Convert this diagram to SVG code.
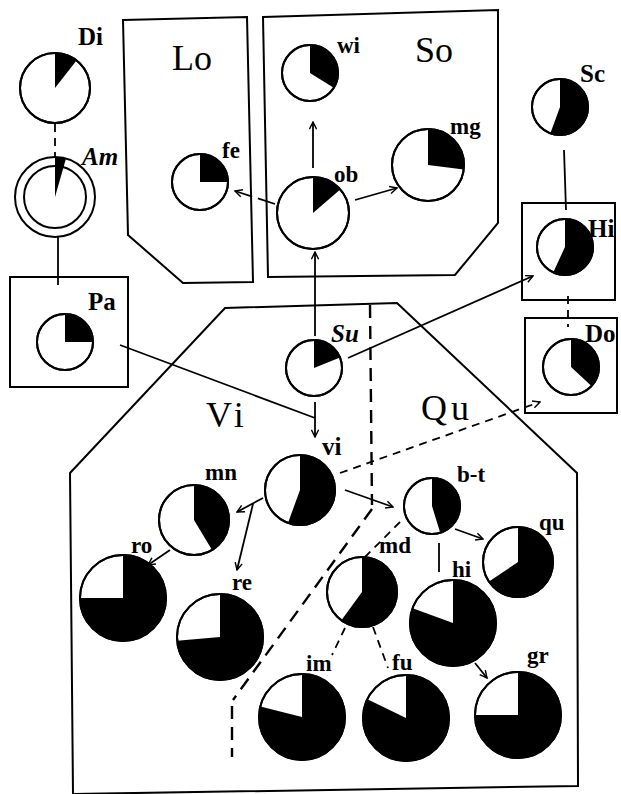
<svg xmlns="http://www.w3.org/2000/svg" width="621" height="794" viewBox="0 0 621 794">
<defs>
<marker id="ah" viewBox="0 0 10 10" refX="9" refY="5" markerWidth="9" markerHeight="9" markerUnits="userSpaceOnUse" orient="auto">
<path d="M1,1 L9,5 L1,9" fill="none" stroke="#000" stroke-width="1.6"/>
</marker>
<style>
.bg{fill:#fff}
.reg{fill:none;stroke:#000;stroke-width:2}
.ring{fill:#fff;stroke:#000;stroke-width:2}
.rim{fill:none;stroke:#000;stroke-width:2}
.dk{fill:#000}
.ln{fill:none;stroke:#000;stroke-width:1.8}
.ds{fill:none;stroke:#000;stroke-width:1.8;stroke-dasharray:8 6}
.bd{fill:none;stroke:#000;stroke-width:2.4;stroke-dasharray:13 8}
.lb{font-family:"Liberation Serif","DejaVu Serif",serif;font-weight:bold;font-size:23px;fill:#000}
.lbb{font-family:"Liberation Serif","DejaVu Serif",serif;font-weight:bold;font-size:25px;fill:#000}
.rg{font-family:"Liberation Serif","DejaVu Serif",serif;font-size:36px;fill:#000}
</style>
</defs>
<rect class="bg" x="0" y="0" width="621" height="794"/>

<g id="regions">
<polygon id="region-Lo" class="reg" points="123,20 247,17 253,282 183,283 128,235"/>
<polygon id="region-So" class="reg" points="263,17 498,10 498,223 455,275 268,277"/>
<polygon id="region-ViQu" class="reg" points="70,473 225,308 397,303 577,473 578,786 73,794"/>
<rect id="box-Pa" class="reg" x="10" y="277" width="118" height="110"/>
<rect id="box-Hi" class="reg" x="522" y="203" width="93" height="97"/>
<rect id="box-Do" class="reg" x="525" y="318" width="92" height="95"/>
<text class="rg" x="172" y="70">Lo</text>
<text class="rg" x="415" y="62">So</text>
<text class="rg" x="206" y="427" letter-spacing="4">Vi</text>
<text class="rg" x="421" y="420" letter-spacing="4">Qu</text>
</g>

<g id="boundaries">
<line class="bd" x1="370" y1="305" x2="372" y2="505"/>
<line class="bd" x1="372" y1="509" x2="233" y2="700"/>
<line class="bd" x1="232" y1="706" x2="232" y2="757"/>
</g>

<g id="connectors">
<line class="ds" x1="55" y1="124" x2="55" y2="158"/>
<line class="ln" x1="58" y1="237" x2="58" y2="285"/>
<line class="ln" x1="120" y1="345" x2="315" y2="418"/>
<line class="ln" x1="315" y1="402" x2="315" y2="437" marker-end="url(#ah)"/>
<line class="ln" x1="315" y1="336" x2="315" y2="252" marker-end="url(#ah)"/>
<line class="ln" x1="313" y1="168" x2="313" y2="122" marker-end="url(#ah)"/>
<line class="ln" x1="275" y1="204" x2="235" y2="191" stroke-dasharray="18 6" marker-end="url(#ah)"/>
<line class="ln" x1="355" y1="200" x2="397" y2="188" marker-end="url(#ah)"/>
<line class="ln" x1="348" y1="358" x2="533" y2="276" marker-end="url(#ah)"/>
<line class="ln" x1="564" y1="150" x2="566" y2="210"/>
<line class="ds" x1="568" y1="296" x2="568" y2="327"/>
<line class="ds" x1="340" y1="473" x2="540" y2="402" marker-end="url(#ah)"/>
<line class="ln" x1="345" y1="490" x2="393" y2="507" marker-end="url(#ah)"/>
<line class="ln" x1="263" y1="498" x2="237" y2="512" marker-end="url(#ah)"/>
<line class="ln" x1="253" y1="504" x2="237" y2="570" marker-end="url(#ah)"/>
<line class="ln" x1="170" y1="550" x2="148" y2="565" marker-end="url(#ah)"/>
<line class="ln" x1="455" y1="529" x2="483" y2="539" marker-end="url(#ah)"/>
<line class="ln" x1="439" y1="543" x2="439" y2="572"/>
<line class="ln" x1="475" y1="663" x2="487" y2="678" marker-end="url(#ah)"/>
<line class="ds" x1="400" y1="522" x2="365" y2="557"/>
<line class="ds" x1="345" y1="628" x2="332" y2="655"/>
<line class="ds" x1="373" y1="627" x2="388" y2="668"/>
</g>

<g id="node-Di"><circle class="ring" cx="55" cy="88" r="35"/><path class="dk" d="M55,88 L55,53 A35,35 0 0 1 76.5,60.4 Z"/><circle class="rim" cx="55" cy="88" r="35"/><text class="lbb" x="78" y="45">Di</text></g>
<g id="node-Am"><circle class="ring" cx="55" cy="197" r="40"/><circle class="rim" cx="55" cy="197" r="31"/><path class="dk" d="M55,197 L55,157 A40,40 0 0 1 66,158.6 Z"/><text class="lbb" x="82" y="165" font-style="italic">Am</text></g>
<g id="node-Pa"><circle class="ring" cx="65" cy="342" r="28"/><path class="dk" d="M65,342 L65,314 A28,28 0 0 1 93,342 Z"/><circle class="rim" cx="65" cy="342" r="28"/><text class="lbb" x="88" y="310">Pa</text></g>
<g id="node-fe"><circle class="ring" cx="200" cy="182" r="28"/><path class="dk" d="M200,182 L200,154 A28,28 0 0 1 228,182 Z"/><circle class="rim" cx="200" cy="182" r="28"/><text class="lb" x="222" y="158">fe</text></g>
<g id="node-wi"><circle class="ring" cx="310" cy="73" r="28"/><path class="dk" d="M310,73 L310,45 A28,28 0 0 1 333.7,87.8 Z"/><circle class="rim" cx="310" cy="73" r="28"/><text class="lb" x="337" y="53">wi</text></g>
<g id="node-ob"><circle class="ring" cx="313" cy="213" r="36"/><path class="dk" d="M313,213 L313,177 A36,36 0 0 1 340.2,189.4 Z"/><circle class="rim" cx="313" cy="213" r="36"/><text class="lb" x="334" y="182">ob</text></g>
<g id="node-mg"><circle class="ring" cx="428" cy="165" r="36"/><path class="dk" d="M428,165 L428,129 A36,36 0 0 1 463.7,169.4 Z"/><circle class="rim" cx="428" cy="165" r="36"/><text class="lb" x="450" y="134">mg</text></g>
<g id="node-Sc"><circle class="ring" cx="560" cy="107" r="28"/><path class="dk" d="M560,107 L560,79 A28,28 0 1 1 550.4,133.3 Z"/><circle class="rim" cx="560" cy="107" r="28"/><text class="lbb" x="580" y="82">Sc</text></g>
<g id="node-Hi"><circle class="ring" cx="565" cy="247" r="28"/><path class="dk" d="M565,247 L565,219 A28,28 0 1 1 553.2,272.4 Z"/><circle class="rim" cx="565" cy="247" r="28"/><text class="lbb" x="588" y="237">Hi</text></g>
<g id="node-Do"><circle class="ring" cx="571" cy="367" r="28"/><path class="dk" d="M571,367 L571,339 A28,28 0 0 1 591.5,386.1 Z"/><circle class="rim" cx="571" cy="367" r="28"/><text class="lbb" x="585" y="342">Do</text></g>
<g id="node-Su"><circle class="ring" cx="314" cy="368" r="28"/><path class="dk" d="M314,368 L314,340 A28,28 0 0 1 340,357.5 Z"/><circle class="rim" cx="314" cy="368" r="28"/><text class="lbb" x="331" y="342" font-style="italic">Su</text></g>
<g id="node-vi"><circle class="ring" cx="300" cy="490" r="35"/><path class="dk" d="M300,490 L300,455 A35,35 0 1 1 288,522.9 Z"/><circle class="rim" cx="300" cy="490" r="35"/><text class="lbb" x="322" y="455">vi</text></g>
<g id="node-mn"><circle class="ring" cx="194" cy="520" r="35"/><path class="dk" d="M194,520 L194,485 A35,35 0 0 1 212,550 Z"/><circle class="rim" cx="194" cy="520" r="35"/><text class="lb" x="205" y="480">mn</text></g>
<g id="node-ro"><circle class="ring" cx="123" cy="598" r="43"/><path class="dk" d="M123,598 L123,555 A43,43 0 1 1 80,598 Z"/><circle class="rim" cx="123" cy="598" r="43"/><text class="lb" x="131" y="553">ro</text></g>
<g id="node-re"><circle class="ring" cx="220" cy="637" r="43"/><path class="dk" d="M220,637 L220,594 A43,43 0 1 1 177.2,640.7 Z"/><circle class="rim" cx="220" cy="637" r="43"/><text class="lb" x="232" y="590">re</text></g>
<g id="node-b-t"><circle class="ring" cx="432" cy="506" r="28"/><path class="dk" d="M432,506 L432,478 A28,28 0 0 1 440.2,532.8 Z"/><circle class="rim" cx="432" cy="506" r="28"/><text class="lb" x="457" y="482">b-t</text></g>
<g id="node-md"><circle class="ring" cx="362" cy="592" r="35"/><path class="dk" d="M362,592 L362,557 A35,35 0 1 1 341.4,620.3 Z"/><circle class="rim" cx="362" cy="592" r="35"/><text class="lb" x="379" y="553">md</text></g>
<g id="node-qu"><circle class="ring" cx="518" cy="562" r="35"/><path class="dk" d="M518,562 L518,527 A35,35 0 1 1 489,581.6 Z"/><circle class="rim" cx="518" cy="562" r="35"/><text class="lb" x="539" y="530">qu</text></g>
<g id="node-hi"><circle class="ring" cx="453" cy="623" r="43"/><path class="dk" d="M453,623 L453,580 A43,43 0 1 1 412.6,608.3 Z"/><circle class="rim" cx="453" cy="623" r="43"/><text class="lb" x="452" y="577">hi</text></g>
<g id="node-gr"><circle class="ring" cx="518" cy="715" r="43"/><path class="dk" d="M518,715 L518,672 A43,43 0 1 1 475,715 Z"/><circle class="rim" cx="518" cy="715" r="43"/><text class="lb" x="527" y="663">gr</text></g>
<g id="node-fu"><circle class="ring" cx="406" cy="718" r="43"/><path class="dk" d="M406,718 L406,675 A43,43 0 1 1 367.4,699.2 Z"/><circle class="rim" cx="406" cy="718" r="43"/><text class="lb" x="392" y="670">fu</text></g>
<g id="node-im"><circle class="ring" cx="302" cy="717" r="43"/><path class="dk" d="M302,717 L302,674 A43,43 0 1 1 260.3,706.6 Z"/><circle class="rim" cx="302" cy="717" r="43"/><text class="lb" x="306" y="671">im</text></g>
</svg>
